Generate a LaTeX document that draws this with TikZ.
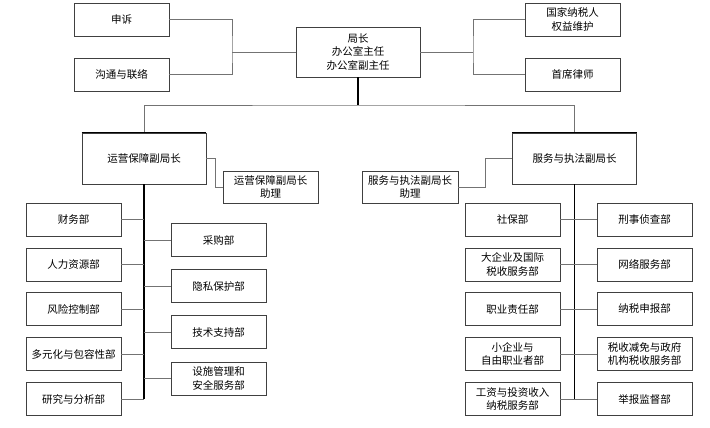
\documentclass[tikz,border=0pt]{standalone}
\usepackage{fontspec}
\newfontfamily\cjk{Noto Sans CJK SC}

\begin{document}
\begin{tikzpicture}[x=1pt, y=-1pt, inner sep=0pt, font=\cjk\fontsize{10.5}{13.5}\selectfont,
	box/.style={draw=black!75, line width=0.8pt, fill=white, align=center, minimum width=95pt, minimum height=33pt},
	head/.style={box, minimum width=124pt, minimum height=51pt},
	link/.style={draw=black!55, line width=0.8pt},
	spine/.style={draw=black, line width=1.4pt}]
			\useasboundingbox (0,0) rectangle (710,428);
			
			\node[head, minimum height=50pt] (root) at (358,52) {局长\\办公室主任\\办公室副主任};
			
			\node[box] (appeal) at (121.5,19.5) {申诉};
			\node[box] (liaison) at (121.5,74.5) {沟通与联络};
			\node[box] (rights) at (572.5,19.5) {国家纳税人\\权益维护};
			\node[box] (counsel) at (572.5,74.5) {首席律师};
			
			\node[head] (ops) at (144,158.5) {运营保障副局长};
			\node[box, minimum height=32pt] (ops_a) at (270.5,187) {运营保障副局长\\助理};
			\node[head] (svc) at (574.5,158.5) {服务与执法副局长};
			\node[box, minimum width=96pt, minimum height=32pt] (svc_a) at (410,187) {服务与执法副局长\\助理};
			
			% left group
			\node[box] (fin) at (73.5,219.5) {财务部};
			\node[box] (hr) at (73.5,264.5) {人力资源部};
			\node[box] (risk) at (73.5,309) {风险控制部};
			\node[box] (div) at (73.5,354) {多元化与包容性部};
			\node[box] (res) at (73.5,399) {研究与分析部};
			\node[box] (buy) at (218.5,240) {采购部};
			\node[box] (priv) at (218.5,286) {隐私保护部};
			\node[box] (tech) at (218.5,332) {技术支持部};
			\node[box] (fac) at (218.5,378.5) {设施管理和\\安全服务部};
			
			% right group
			\node[box] (soc) at (512.5,219.5) {社保部};
			\node[box] (large) at (512.5,264.5) {大企业及国际\\税收服务部};
			\node[box] (liab) at (512.5,309) {职业责任部};
			\node[box] (small) at (512.5,354) {小企业与\\自由职业者部};
			\node[box] (wage) at (512.5,399) {工资与投资收入\\纳税服务部};
			\node[box] (crim) at (644.5,219.5) {刑事侦查部};
			\node[box] (web) at (644.5,264.5) {网络服务部};
			\node[box] (filing) at (644.5,309) {纳税申报部};
			\node[box] (relief) at (644.5,354) {税收减免与政府\\机构税收服务部};
			\node[box] (report) at (644.5,399) {举报监督部};
			
			\coordinate (lj) at (232,52);
			\coordinate (rj) at (473,52);
			\coordinate (hub) at (358,105);
			
			\draw[link] (appeal.east) -| (lj) |- (liaison.east);
			\draw[link] (root.west) -- (lj);
			\draw[link] (rights.west) -| (rj) |- (counsel.west);
			\draw[link] (root.east) -- (rj);
			
			\draw[spine] (root.south) -- (hub);
			\draw[link] (ops.north) |- (hub) -| (svc.north);
			\draw[spine] (ops.north west) -- (ops.north east);
			\draw[spine] (svc.north west) -- (svc.north east);
			
			\draw[link] (ops.east) -- ++(9,0) |- (ops_a.west);
			\draw[link] (svc.west) -- ++(-27,0) |- (svc_a.east);
			
			\draw[spine] (ops.south) -- (ops.south |- res.east);
			\draw[link] (fin.east) -- (fin.east -| ops.south);
			\draw[link] (hr.east) -- (hr.east -| ops.south);
			\draw[link] (risk.east) -- (risk.east -| ops.south);
			\draw[link] (div.east) -- (div.east -| ops.south);
			\draw[link] (res.east) -- (res.east -| ops.south);
			\draw[link] (buy.west) -- (buy.west -| ops.south);
			\draw[link] (priv.west) -- (priv.west -| ops.south);
			\draw[link] (tech.west) -- (tech.west -| ops.south);
			\draw[link] (fac.west) -- (fac.west -| ops.south);
			
			\draw[spine] (svc.south) -- (svc.south |- wage.east);
			\draw[link] (soc.east) -- (crim.west);
			\draw[link] (large.east) -- (web.west);
			\draw[link] (liab.east) -- (filing.west);
			\draw[link] (small.east) -- (relief.west);
			\draw[link] (wage.east) -- (report.west);
		\end{tikzpicture}
\end{document}
